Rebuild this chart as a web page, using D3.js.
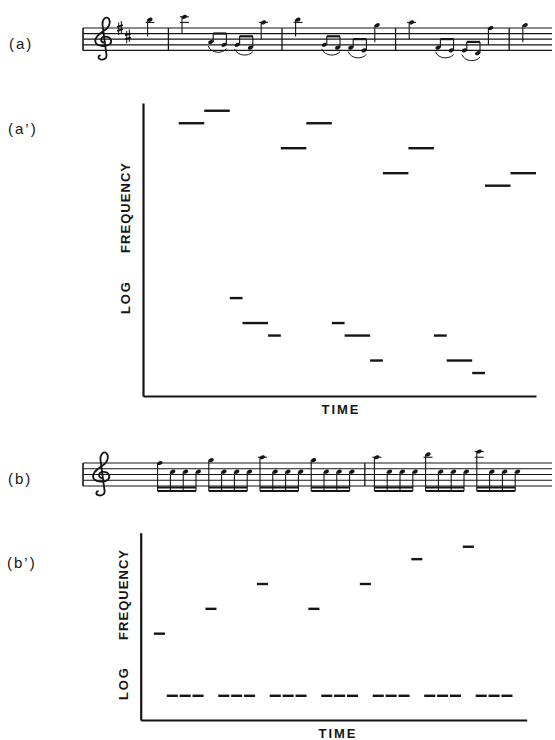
<!DOCTYPE html>
<html><head><meta charset="utf-8">
<script src="https://cdn.jsdelivr.net/npm/d3@7"></script>
<style>body{margin:0;background:#fff}svg{display:block}</style>
</head><body>
<script>
// ---------------- DATA ----------------
// (a / a') melody: start time (eighth-note units), duration (eighths), pitch (semitones, MIDI numbering)
const melodyTime  = [0, 2, 4, 5, 7, 8, 10, 12, 13, 15, 16, 18, 20, 21, 23, 24, 26];
const melodyDur   = [2, 2, 1, 2, 1, 2, 2, 1, 2, 1, 2, 2, 1, 2, 1, 2, 2];
const melodyPitch = [78, 79, 64, 62, 61, 76, 78, 62, 61, 59, 74, 76, 61, 59, 58, 73, 74];
const melodyBars  = [2, 10, 18, 26];          // barline times (eighth units)

// (b / b') pattern: start time (sixteenth units), pitch (semitones)
const patternTime  = [0,1,2,3, 4,5,6,7, 8,9,10,11, 12,13,14,15, 16,17,18,19, 20,21,22,23, 24,25,26,27];
const patternPitch = [77,72,72,72, 79,72,72,72, 81,72,72,72, 79,72,72,72, 81,72,72,72, 83,72,72,72, 84,72,72,72];
const patternBars  = [16];

const panelLabels = ["(a)", "(a\u2019)", "(b)", "(b\u2019)"];
const axisLabels  = ["LOG", "FREQUENCY", "TIME"];

// ---------------- SETUP ----------------
const W = 555, H = 740, INK = "#151515";
const svg = d3.select("body").append("svg").attr("width", W).attr("height", H);
svg.append("rect").attr("width", W).attr("height", H).attr("fill", "#fff");

const melody  = melodyTime.map((t, i) => ({t, d: melodyDur[i], p: melodyPitch[i]}));
const pattern = patternTime.map((t, i) => ({t, d: 1, p: patternPitch[i]}));

const letterStep = [0,0,1,1,2,3,3,4,4,5,5,6];
const step = p => Math.floor(p / 12) * 7 + letterStep[p % 12];

// ---------------- PLOTS ----------------
function plot(cfg, notes) {
  const g = svg.append("g");
  const x = d3.scaleLinear().domain(cfg.xDomain).range(cfg.xRange);
  const y = d3.scaleLinear().domain(cfg.yDomain).range(cfg.yRange);
  const ax = g.append("g").attr("transform", `translate(${cfg.xRange[0]},0)`)
    .call(d3.axisLeft(y).tickValues([]).tickSizeOuter(0));
  const bx = g.append("g").attr("transform", `translate(0,${cfg.yRange[0]})`)
    .call(d3.axisBottom(x).tickValues([]).tickSizeOuter(0));
  [ax, bx].forEach(a => a.select(".domain").attr("stroke", INK).attr("stroke-width", 2.2));

  g.selectAll("line.note").data(notes).join("line").attr("class", "note")
    .attr("x1", d => x(d.t) + cfg.inset[0]).attr("x2", d => x(d.t + d.d) - cfg.inset[1])
    .attr("y1", d => y(d.p)).attr("y2", d => y(d.p))
    .attr("stroke", INK).attr("stroke-width", 2.4);

  const lx = cfg.xRange[0] - cfg.labelGap;
  const fs = 13;
  const lab = (sel) => sel.attr("text-anchor", "middle").attr("dominant-baseline", "central")
    .attr("font-family", "Liberation Sans, Arial, sans-serif").attr("font-weight", "bold")
    .attr("font-size", fs).attr("fill", INK).attr("lengthAdjust", "spacing");
  g.append("text").attr("transform", `translate(${lx},${cfg.logY}) rotate(-90)`)
    .call(lab).attr("textLength", 32).text(axisLabels[0]);
  g.append("text").attr("transform", `translate(${lx},${cfg.freqY}) rotate(-90)`)
    .call(lab).attr("textLength", 90).text(axisLabels[1]);
  g.append("text").attr("x", cfg.timeX).attr("y", cfg.yRange[0] + 13)
    .call(lab).attr("textLength", 37).text(axisLabels[2]);
}

plot({xDomain: [-2.8, 28], xRange: [143, 536], yDomain: [56.16, 79.62], yRange: [396, 103],
      inset: [0, 0], labelGap: 17.5, logY: 298, freqY: 208, timeX: 340}, melody);
plot({xDomain: [-0.98, 29.01], xRange: [140.7, 526.7], yDomain: [70.05, 85.13], yRange: [720, 532.7],
      inset: [0.6, 1.2], labelGap: 17.4, logY: 684, freqY: 595, timeX: 337}, pattern);

// ---------------- STAVES ----------------
const clefPath = "M0.15,0.35 C-0.55,0.3 -0.6,-0.6 0.1,-0.75 C0.9,-0.85 1.2,0.1 0.8,0.6 " +
  "C0.3,1.15 -1.1,1.0 -1.2,0.1 C-1.3,-0.9 -0.2,-1.5 0.4,-2.2 C0.9,-2.8 0.9,-3.8 0.5,-4.1 " +
  "C0.1,-4.3 -0.3,-3.6 -0.2,-2.8 L0.35,2.6 C0.4,3.2 -0.1,3.45 -0.5,3.3 C-0.9,3.1 -0.8,2.6 -0.45,2.6";

function staff(cfg) {
  const g = svg.append("g");
  const ys = d3.range(5).map(i => cfg.top + i * cfg.gap);
  g.selectAll("line.sl").data(ys).join("line")
    .attr("x1", cfg.x0).attr("x2", cfg.x1).attr("y1", d => d).attr("y2", d => d)
    .attr("stroke", INK).attr("stroke-width", 1.2);
  g.append("line").attr("x1", cfg.x0).attr("x2", cfg.x0).attr("y1", ys[0]).attr("y2", ys[4])
    .attr("stroke", INK).attr("stroke-width", 1.6);
  g.append("path").attr("d", clefPath)
    .attr("transform", `translate(${cfg.clefX},${ys[3] - 4}) scale(${cfg.gap * 1.3},${cfg.gap})`)
    .attr("fill", "none").attr("stroke", INK).attr("stroke-width", 1.8)
    .attr("vector-effect", "non-scaling-stroke");
  return {g, ys};
}

function sharp(g, x, y) {
  g.append("line").attr("x1", x - 1.3).attr("x2", x - 1.3).attr("y1", y - 5.5).attr("y2", y + 7)
    .attr("stroke", INK).attr("stroke-width", 1);
  g.append("line").attr("x1", x + 1.3).attr("x2", x + 1.3).attr("y1", y - 7).attr("y2", y + 5.5)
    .attr("stroke", INK).attr("stroke-width", 1);
  g.append("line").attr("x1", x - 3).attr("x2", x + 3).attr("y1", y - 1.2).attr("y2", y - 2.8)
    .attr("stroke", INK).attr("stroke-width", 1.8);
  g.append("line").attr("x1", x - 3).attr("x2", x + 3).attr("y1", y + 2.8).attr("y2", y + 1.2)
    .attr("stroke", INK).attr("stroke-width", 1.8);
}

function head(g, x, y) {
  g.append("ellipse").attr("cx", x).attr("cy", y).attr("rx", 2.7).attr("ry", 1.9)
    .attr("transform", `rotate(-20,${x},${y})`).attr("fill", INK);
}
function ledgers(g, x, rel, top, gap) {
  for (let r = 2; r <= rel; r += 2)
    g.append("line").attr("x1", x - 4.5).attr("x2", x + 4.5)
      .attr("y1", top - r * gap / 2).attr("y2", top - r * gap / 2)
      .attr("stroke", INK).attr("stroke-width", 1.1);
  for (let r = -10; r >= rel; r -= 2)
    g.append("line").attr("x1", x - 4.5).attr("x2", x + 4.5)
      .attr("y1", top - r * gap / 2).attr("y2", top - r * gap / 2)
      .attr("stroke", INK).attr("stroke-width", 1.1);
}

// ----- staff (a) -----
{
  const cfg = {top: 28, gap: 5.6, x0: 83, x1: 552, clefX: 104};
  const {g} = staff(cfg);
  sharp(g, 120, cfg.top);
  sharp(g, 128, cfg.top + 1.5 * cfg.gap);
  const refStep = step(d3.max(melodyPitch)) - 4;
  const base = d3.scaleLinear().domain([0, 28]).range([150, 519.6]);
  const nb = t => melodyBars.filter(b => b <= t).length;
  const sx = t => base(t) + nb(t) * 8;
  const sy = p => cfg.top - (step(p) - refStep) * cfg.gap / 2;
  const rel = p => step(p) - refStep;
  g.selectAll("line.bar").data(melodyBars).join("line")
    .attr("x1", d => sx(d) - 16).attr("x2", d => sx(d) - 16)
    .attr("y1", cfg.top).attr("y2", cfg.top + 4 * cfg.gap)
    .attr("stroke", INK).attr("stroke-width", 1.3);
  const notes = [];
  melody.forEach(n => {
    if (rel(n.p) >= -4) notes.push({t: n.t, p: n.p, kind: "q"});
    else for (let k = 0; k < n.d; k++) notes.push({t: n.t + k, p: n.p, kind: "e"});
  });
  notes.forEach(n => {
    const x = sx(n.t), y = sy(n.p);
    ledgers(g, x, rel(n.p), cfg.top, cfg.gap);
    head(g, x, y);
    if (n.kind === "q")
      g.append("line").attr("x1", x - 2.4).attr("x2", x - 2.4).attr("y1", y).attr("y2", y + 17)
        .attr("stroke", INK).attr("stroke-width", 1.1);
  });
  const eighths = d3.groups(notes.filter(n => n.kind === "e"), n => Math.floor(n.t / 2));
  eighths.forEach(([k, grp]) => {
    const by = d3.min(grp, n => sy(n.p)) - 8.5;
    grp.forEach(n => g.append("line").attr("x1", sx(n.t) + 2.4).attr("x2", sx(n.t) + 2.4)
      .attr("y1", sy(n.p)).attr("y2", by).attr("stroke", INK).attr("stroke-width", 1.1));
    const xa = sx(grp[0].t) + 2.4, xb = sx(grp[grp.length - 1].t) + 2.4;
    g.append("line").attr("x1", xa).attr("x2", xb).attr("y1", by).attr("y2", by)
      .attr("stroke", INK).attr("stroke-width", 2.2);
    const ya = sy(grp[0].p) + 4, yb = sy(grp[grp.length - 1].p) + 4;
    g.append("path")
      .attr("d", `M${xa - 5},${ya} C${xa - 2},${Math.max(ya, yb) + 5} ${xb - 4},${Math.max(ya, yb) + 5} ${xb},${yb}`)
      .attr("fill", "none").attr("stroke", INK).attr("stroke-width", 1);
  });
}

// ----- staff (b) -----
{
  const cfg = {top: 463, gap: 5.75, x0: 83, x1: 552, clefX: 102};
  const {g} = staff(cfg);
  const refStep = step(patternPitch[0]);
  const base = d3.scaleLinear().domain([0, 28]).range([160, 518.4]);
  const nb = t => patternBars.filter(b => b <= t).length;
  const sx = t => base(t) + nb(t) * 12;
  const sy = p => cfg.top - (step(p) - refStep) * cfg.gap / 2;
  const bottom = cfg.top + 4 * cfg.gap;
  g.selectAll("line.bar").data(patternBars).join("line")
    .attr("x1", d => sx(d) - 12).attr("x2", d => sx(d) - 12)
    .attr("y1", cfg.top).attr("y2", bottom)
    .attr("stroke", INK).attr("stroke-width", 1.3);
  pattern.forEach(n => {
    const x = sx(n.t), y = sy(n.p);
    ledgers(g, x, step(n.p) - refStep, cfg.top, cfg.gap);
    head(g, x, y);
    g.append("line").attr("x1", x - 2.4).attr("x2", x - 2.4).attr("y1", y).attr("y2", bottom + 5)
      .attr("stroke", INK).attr("stroke-width", 1.1);
  });
  d3.groups(pattern, n => Math.floor(n.t / 4)).forEach(([k, grp]) => {
    const xa = sx(grp[0].t) - 2.4, xb = sx(grp[grp.length - 1].t) - 2.4;
    [bottom + 1.5, bottom + 5].forEach(by =>
      g.append("line").attr("x1", xa).attr("x2", xb).attr("y1", by).attr("y2", by)
        .attr("stroke", INK).attr("stroke-width", 1.8));
  });
}

// ---------------- PANEL LABELS ----------------
const labelPos = [[9, 49], [8, 134], [8, 484], [7, 568]];
svg.selectAll("text.pl").data(panelLabels).join("text")
  .attr("x", (d, i) => labelPos[i][0]).attr("y", (d, i) => labelPos[i][1])
  .attr("font-family", "Liberation Sans, Arial, sans-serif").attr("font-size", 15)
  .attr("font-weight", 500).attr("letter-spacing", 2).attr("fill", INK).text(d => d);
</script>
</body></html>
